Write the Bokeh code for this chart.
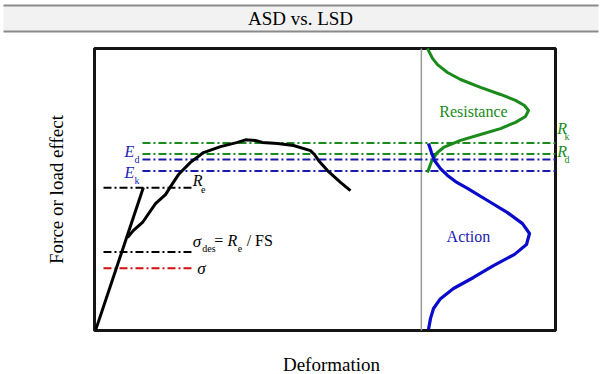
import numpy as np
from bokeh.plotting import figure
from bokeh.models import Range1d
from bokeh.core.properties import value
from bokeh.embed import file_html
from bokeh.resources import INLINE

# ---------------- data (deformation 0..100, force 0..100) ----------------
title_text = "ASD vs. LSD"
x_label = "Deformation"
y_label = "Force or load effect"

# elastic branch of the stress-strain curve
elastic_x = [0.3, 10.6]
elastic_y = [0.4, 50.7]

# non-linear load-deformation curve
curve_x = [7.16, 8.46, 10.41, 13.23, 15.4, 16.92, 18.22, 20.82, 23.64, 27.33, 31.02,
           32.75, 34.92, 36.44, 39.7, 43.17, 46.85, 47.72, 48.59, 50.54, 53.36, 55.53]
curve_y = [33.0, 35.5, 38.3, 45.0, 48.2, 52.1, 55.3, 59.6, 63.1, 65.2, 66.7,
           67.6, 67.4, 66.7, 66.3, 65.6, 63.8, 62.4, 60.3, 56.7, 52.5, 49.6]

# resistance distribution (drawn sideways)
resist_x = [72.23, 73.32, 74.4, 76.57, 79.4, 83.73, 88.07, 91.32, 93.28, 94.14, 93.49,
            91.32, 88.07, 83.73, 79.4, 75.7, 74.19, 73.1, 72.23]
resist_y = [100.0, 96.5, 94.3, 91.5, 89.0, 86.2, 83.7, 81.6, 79.8, 78.0, 75.9,
            73.8, 71.6, 69.5, 67.4, 64.9, 62.8, 59.9, 56.0]

# action distribution (drawn sideways)
action_x = [72.45, 73.1, 73.75, 75.05, 76.57, 78.31, 80.91, 85.25, 89.59, 92.84, 94.36,
            93.71, 91.11, 86.55, 82.21, 77.87, 75.05, 73.54, 72.89, 72.45]
action_y = [66.3, 63.1, 60.3, 57.4, 55.0, 52.8, 50.4, 46.1, 41.8, 37.9, 34.4,
            30.5, 27.0, 23.0, 18.8, 14.9, 11.3, 7.8, 4.3, 0.4]

# horizontal reference levels
R_k = 66.5
R_d = 62.6
E_d = 60.6
E_k = 56.6
R_e = 50.6
sigma_des = 27.8
sigma = 22.1

lsd_start, lsd_end = 10.4, 100.0
asd_start, asd_end = 1.95, 21.1
divider_x = 70.9

# ---------------- figure ----------------
GREEN = "#1a8a1a"
BLUE = "#0a0acc"
DBLUE = "#1a1ab0"
SERIF = "Liberation Serif"
DASH = "8 3 2 3"

XMIN, XMAX = -20.39, 109.76
YMIN, YMAX = -15.6, 117.02

p = figure(width=600, height=374, output_backend="svg", toolbar_location=None,
           x_axis_type=None, y_axis_type=None,
           x_range=Range1d(XMIN, XMAX), y_range=Range1d(YMIN, YMAX))
p.min_border = 0
p.outline_line_color = None
p.grid.visible = False
p.background_fill_color = "white"
p.border_fill_color = "white"

# title band
p.quad(left=[-19.74], right=[109.33], bottom=[106.03], top=[115.25],
       fill_color="#f2f2f2", line_color=None)
p.segment(x0=[-19.74, -19.74], x1=[109.33, 109.33], y0=[106.03, 115.25], y1=[106.03, 115.25],
          line_color="#8a8a8a", line_width=2)

# frame box
p.quad(left=[0], right=[100], bottom=[0], top=[100], fill_color=None,
       line_color="#151515", line_width=3)

# divider
p.segment(x0=[divider_x], x1=[divider_x], y0=[0], y1=[100], line_color="#9a9a9a", line_width=1.5)

# reference lines
p.segment(x0=[lsd_start, lsd_start], x1=[lsd_end, lsd_end], y0=[R_k, R_d], y1=[R_k, R_d],
          line_color=GREEN, line_width=2, line_dash=DASH)
p.segment(x0=[lsd_start, lsd_start], x1=[lsd_end, lsd_end], y0=[E_d, E_k], y1=[E_d, E_k],
          line_color=DBLUE, line_width=2, line_dash=DASH)
p.segment(x0=[asd_start, asd_start], x1=[asd_end, asd_end], y0=[R_e, sigma_des], y1=[R_e, sigma_des],
          line_color="black", line_width=2, line_dash=DASH)
p.segment(x0=[asd_start], x1=[asd_end], y0=[sigma], y1=[sigma],
          line_color="#d01010", line_width=2, line_dash=DASH)

# curves
p.line(elastic_x, elastic_y, line_color="black", line_width=3)
p.line(curve_x, curve_y, line_color="black", line_width=3, line_join="round")
p.line(resist_x, resist_y, line_color=GREEN, line_width=3, line_join="round")
p.line(action_x, action_y, line_color=BLUE, line_width=3.2, line_join="round")


def txt(x, y, s, size, color="black", style="normal", align="left", angle=0.0):
    p.text(x=[x], y=[y], text=[s], angle=angle, text_font=value(SERIF),
           text_font_size=value(f"{size}px"), text_font_style=style,
           text_color=color, text_align=align, text_baseline="middle")


# titles and axis labels
txt(44.7, 110.64, title_text, 19, align="center")
txt(51.4, -12.06, x_label, 19, align="center")
txt(-8.24, 50.0, y_label, 19, align="center", angle=np.pi / 2)

# curve labels
txt(82.2, 77.7, "Resistance", 16, color=GREEN, align="center")
txt(81.1, 33.3, "Action", 16, color=DBLUE, align="center")

# level labels
txt(21.3, 53.2, "R", 16, style="italic")
txt(23.1, 50.0, "e", 10)
txt(21.3, 31.6, "σ", 17, style="italic")
txt(23.4, 29.1, "des", 10)
txt(26.0, 31.9, "=", 16)
txt(28.85, 31.9, "R", 16, style="italic")
txt(31.1, 29.1, "e", 10)
txt(33.0, 31.9, "/ FS", 16)
txt(22.3, 22.0, "σ", 17, style="italic")

txt(6.5, 63.3, "E", 16, color=DBLUE, style="italic")
txt(8.7, 60.6, "d", 10, color=DBLUE)
txt(6.5, 56.0, "E", 16, color=DBLUE, style="italic")
txt(8.7, 53.2, "k", 10, color=DBLUE)

txt(100.4, 71.5, "R", 16, color=GREEN, style="italic")
txt(101.95, 68.8, "k", 10, color=GREEN)
txt(100.4, 63.3, "R", 16, color=GREEN, style="italic")
txt(101.95, 60.6, "d", 10, color=GREEN)

open("out.html", "w").write(file_html(p, INLINE))
